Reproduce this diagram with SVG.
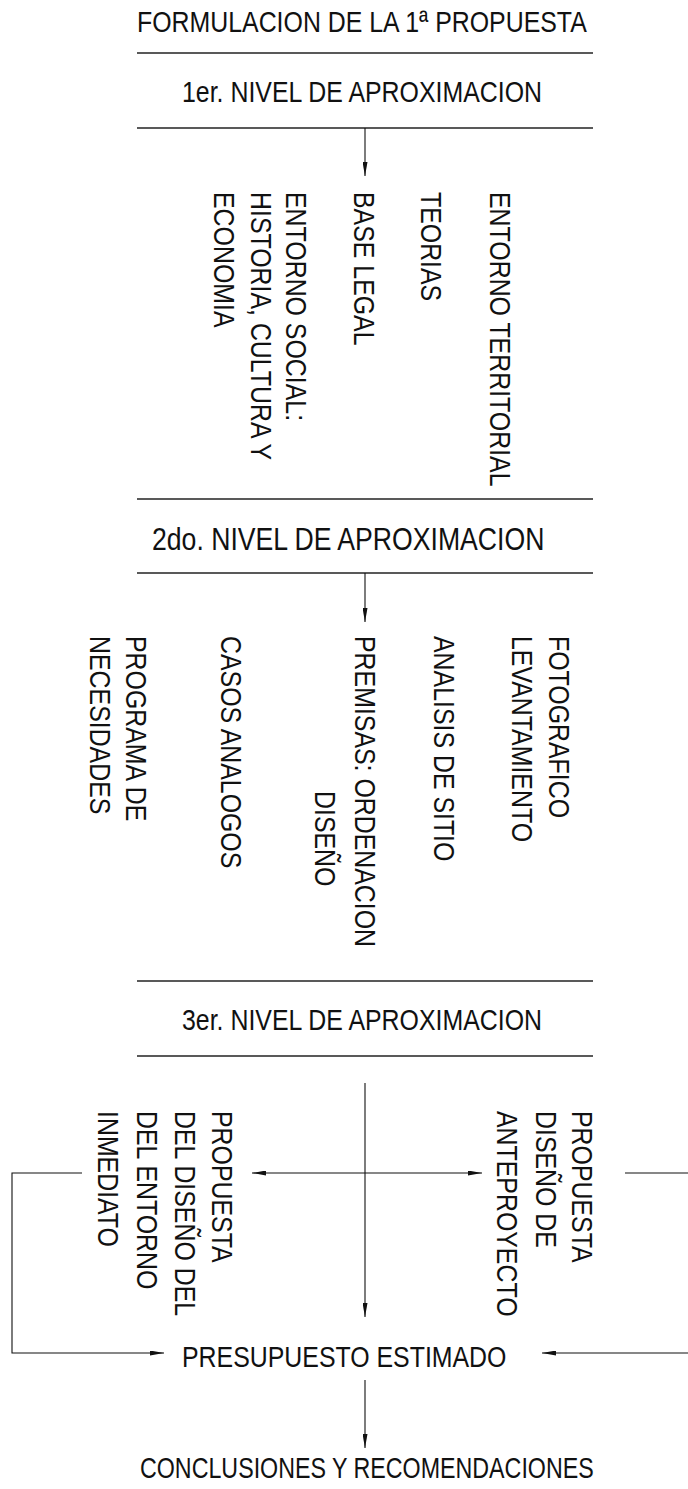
<svg xmlns="http://www.w3.org/2000/svg" width="688" height="1489" viewBox="0 0 688 1489">
<style>
text{font-family:"Liberation Sans",Arial,sans-serif;font-size:30px;fill:#111}
.sep{stroke:#222;stroke-width:1.4;fill:none}
.con{stroke:#111;stroke-width:1.1;fill:none}
.arr{marker-end:url(#ah)}
</style>
<defs>
<marker id="ah" viewBox="0 0 14 5" refX="14" refY="2.5" markerWidth="14" markerHeight="5" markerUnits="userSpaceOnUse" orient="auto-start-reverse">
<path d="M0,0 L14,2.5 L0,5 z" fill="#111"/>
</marker>
</defs>
<rect width="688" height="1489" fill="#fff"/>

<g id="separators">
<line class="sep" x1="137" y1="53" x2="593" y2="53"/>
<line class="sep" x1="137" y1="128" x2="593" y2="128"/>
<line class="sep" x1="137" y1="499" x2="593" y2="499"/>
<line class="sep" x1="137" y1="573" x2="593" y2="573"/>
<line class="sep" x1="137" y1="981" x2="593" y2="981"/>
<line class="sep" x1="137" y1="1056" x2="593" y2="1056"/>
</g>

<g id="connectors">
<path class="con arr" d="M365,128 V176"/>
<path class="con arr" d="M365,573 V622"/>
<path class="con arr" d="M365,1083 V1317"/>
<path class="con" d="M252,1173 H482" marker-start="url(#ah)" marker-end="url(#ah)"/>
<path class="con arr" d="M82,1173 H12 V1353 H164"/>
<path class="con arr" d="M625,1173 H700 V1353 H542"/>
<path class="con arr" d="M365,1380 V1448"/>
</g>

<g id="title"><text transform="translate(137,32) scale(0.83,1)">FORMULACION DE LA 1ª PROPUESTA</text></g>
<g id="nivel1"><text transform="translate(182,102) scale(0.83,1)">1er. NIVEL DE APROXIMACION</text></g>

<g id="entorno-territorial"><text transform="translate(490,192) rotate(90) scale(0.83,1)">ENTORNO TERRITORIAL</text></g>
<g id="teorias"><text transform="translate(421,192) rotate(90) scale(0.83,1)">TEORIAS</text></g>
<g id="base-legal"><text transform="translate(354,192) rotate(90) scale(0.83,1)">BASE LEGAL</text></g>
<g id="entorno-social">
<text transform="translate(286,192) rotate(90) scale(0.83,1)">ENTORNO SOCIAL:</text>
<text transform="translate(251,192) rotate(90) scale(0.83,1)">HISTORIA, CULTURA Y</text>
<text transform="translate(214,192) rotate(90) scale(0.83,1)">ECONOMIA</text>
</g>

<g id="nivel2"><text transform="translate(152,550) scale(0.859,1)" style="font-size:31px">2do. NIVEL DE APROXIMACION</text></g>

<g id="levantamiento">
<text transform="translate(549,636) rotate(90) scale(0.83,1)">FOTOGRAFICO</text>
<text transform="translate(512,636) rotate(90) scale(0.83,1)">LEVANTAMIENTO</text>
</g>
<g id="analisis-sitio"><text transform="translate(434,636) rotate(90) scale(0.83,1)">ANALISIS DE SITIO</text></g>
<g id="premisas">
<text transform="translate(355,636) rotate(90) scale(0.83,1)">PREMISAS: ORDENACION</text>
<text transform="translate(315,791) rotate(90) scale(0.83,1)">DISEÑO</text>
</g>
<g id="casos-analogos"><text transform="translate(221,636) rotate(90) scale(0.83,1)">CASOS ANALOGOS</text></g>
<g id="programa">
<text transform="translate(126,636) rotate(90) scale(0.83,1)">PROGRAMA DE</text>
<text transform="translate(90,636) rotate(90) scale(0.83,1)">NECESIDADES</text>
</g>

<g id="nivel3"><text transform="translate(182,1030) scale(0.83,1)">3er. NIVEL DE APROXIMACION</text></g>

<g id="propuesta-entorno">
<text transform="translate(212,1111) rotate(90) scale(0.83,1)">PROPUESTA</text>
<text transform="translate(175,1111) rotate(90) scale(0.83,1)">DEL DISEÑO DEL</text>
<text transform="translate(137,1111) rotate(90) scale(0.83,1)">DEL ENTORNO</text>
<text transform="translate(98,1111) rotate(90) scale(0.83,1)">INMEDIATO</text>
</g>
<g id="propuesta-anteproyecto">
<text transform="translate(572,1111) rotate(90) scale(0.83,1)">PROPUESTA</text>
<text transform="translate(536,1111) rotate(90) scale(0.83,1)">DISEÑO DE</text>
<text transform="translate(497,1111) rotate(90) scale(0.83,1)">ANTEPROYECTO</text>
</g>

<g id="presupuesto"><text transform="translate(182,1367) scale(0.83,1)">PRESUPUESTO ESTIMADO</text></g>
<g id="conclusiones"><text transform="translate(140,1478) scale(0.775,1)">CONCLUSIONES Y RECOMENDACIONES</text></g>
</svg>
